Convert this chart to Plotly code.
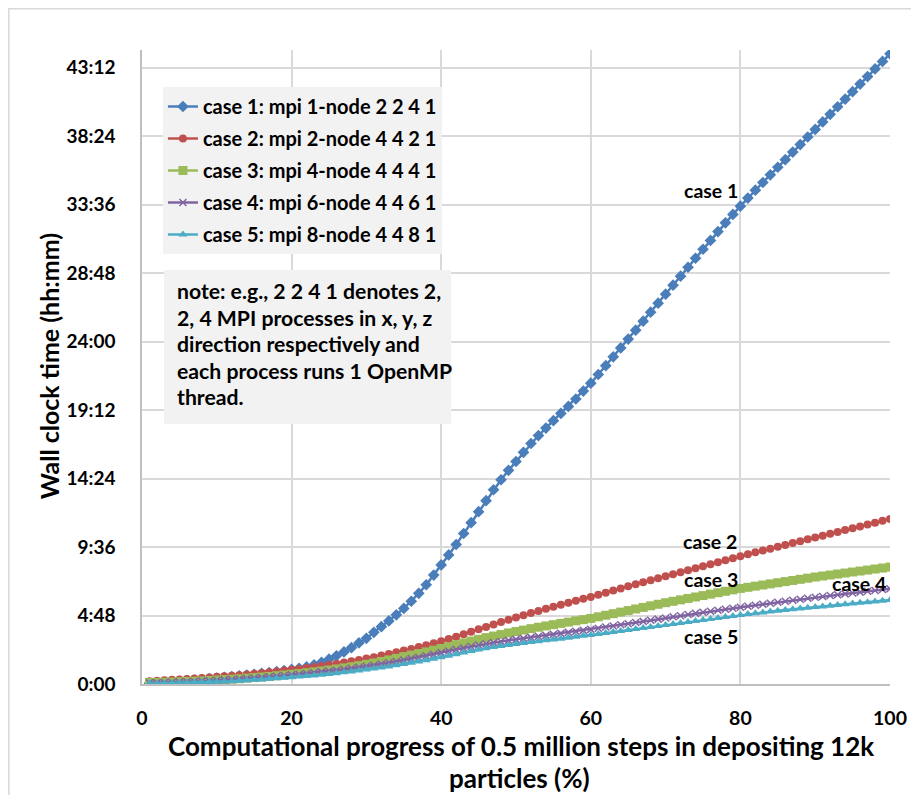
import plotly.graph_objects as go

progress = list(range(1, 101))

case1 = [0.05, 0.08, 0.12, 0.16, 0.20, 0.24, 0.28, 0.32, 0.37, 0.42,
         0.47, 0.52, 0.57, 0.62, 0.68, 0.74, 0.80, 0.87, 0.94, 1.02,
         1.10, 1.20, 1.34, 1.52, 1.74, 1.98, 2.25, 2.55, 2.88, 3.20,
         3.62, 4.02, 4.42, 4.85, 5.30, 5.80, 6.36, 6.96, 7.64, 8.35,
         9.05, 9.78, 10.55, 11.31, 12.08, 12.85, 13.62, 14.32, 14.98, 15.60,
         16.24, 16.86, 17.42, 17.94, 18.46, 18.97, 19.46, 19.98, 20.54, 21.09,
         21.70, 22.32, 22.94, 23.56, 24.18, 24.81, 25.44, 26.07, 26.70, 27.33,
         27.96, 28.59, 29.22, 29.85, 30.48, 31.10, 31.72, 32.33, 32.92, 33.50,
         34.07, 34.62, 35.16, 35.70, 36.23, 36.76, 37.29, 37.82, 38.35, 38.88,
         39.41, 39.94, 40.47, 41.00, 41.53, 42.06, 42.59, 43.12, 43.65, 44.18]

case2 = [0.20, 0.23, 0.26, 0.29, 0.32, 0.35, 0.38, 0.42, 0.46, 0.50,
         0.54, 0.58, 0.62, 0.67, 0.72, 0.77, 0.82, 0.88, 0.94, 1.00,
         1.06, 1.12, 1.19, 1.26, 1.34, 1.42, 1.50, 1.59, 1.68, 1.78,
         1.88, 1.99, 2.10, 2.22, 2.34, 2.46, 2.59, 2.72, 2.86, 3.00,
         3.16, 3.32, 3.49, 3.66, 3.83, 4.00, 4.17, 4.34, 4.50, 4.66,
         4.82, 4.97, 5.12, 5.27, 5.41, 5.55, 5.69, 5.83, 5.97, 6.10,
         6.25, 6.40, 6.55, 6.70, 6.85, 7.00, 7.14, 7.28, 7.42, 7.56,
         7.70, 7.84, 7.98, 8.12, 8.26, 8.40, 8.54, 8.68, 8.82, 8.96,
         9.10, 9.23, 9.36, 9.49, 9.62, 9.75, 9.88, 10.01, 10.14, 10.27,
         10.40, 10.53, 10.66, 10.79, 10.92, 11.05, 11.18, 11.31, 11.44, 11.57]

case3 = [0.10, 0.11, 0.12, 0.14, 0.16, 0.18, 0.20, 0.22, 0.25, 0.28,
         0.31, 0.34, 0.37, 0.41, 0.45, 0.49, 0.53, 0.58, 0.63, 0.68,
         0.73, 0.79, 0.85, 0.91, 0.98, 1.05, 1.13, 1.21, 1.29, 1.38,
         1.48, 1.58, 1.69, 1.80, 1.92, 2.03, 2.14, 2.25, 2.37, 2.49,
         2.62, 2.75, 2.88, 3.01, 3.13, 3.25, 3.36, 3.47, 3.58, 3.68,
         3.78, 3.88, 3.98, 4.07, 4.16, 4.25, 4.34, 4.43, 4.51, 4.60,
         4.71, 4.82, 4.93, 5.04, 5.15, 5.26, 5.37, 5.48, 5.59, 5.70,
         5.80, 5.90, 6.00, 6.10, 6.20, 6.30, 6.40, 6.50, 6.60, 6.70,
         6.78, 6.86, 6.94, 7.02, 7.10, 7.18, 7.26, 7.34, 7.42, 7.50,
         7.57, 7.64, 7.71, 7.78, 7.85, 7.92, 7.99, 8.06, 8.13, 8.20]

case4 = [0.08, 0.09, 0.10, 0.12, 0.14, 0.16, 0.18, 0.20, 0.23, 0.26,
         0.29, 0.32, 0.35, 0.38, 0.42, 0.46, 0.50, 0.54, 0.59, 0.64,
         0.69, 0.74, 0.79, 0.85, 0.91, 0.97, 1.03, 1.10, 1.17, 1.24,
         1.32, 1.40, 1.49, 1.58, 1.68, 1.78, 1.88, 1.98, 2.09, 2.20,
         2.31, 2.42, 2.53, 2.63, 2.73, 2.82, 2.90, 2.98, 3.06, 3.13,
         3.20, 3.27, 3.34, 3.41, 3.48, 3.55, 3.62, 3.69, 3.76, 3.83,
         3.91, 3.99, 4.07, 4.15, 4.23, 4.31, 4.39, 4.47, 4.55, 4.63,
         4.71, 4.79, 4.87, 4.95, 5.03, 5.10, 5.17, 5.24, 5.31, 5.38,
         5.45, 5.52, 5.59, 5.66, 5.73, 5.80, 5.87, 5.94, 6.01, 6.08,
         6.14, 6.20, 6.26, 6.32, 6.38, 6.44, 6.50, 6.56, 6.62, 6.68]

case5 = [0.03, 0.04, 0.05, 0.06, 0.07, 0.08, 0.10, 0.12, 0.14, 0.16,
         0.18, 0.20, 0.23, 0.26, 0.29, 0.32, 0.36, 0.40, 0.44, 0.48,
         0.52, 0.56, 0.60, 0.65, 0.70, 0.76, 0.82, 0.88, 0.94, 1.01,
         1.08, 1.15, 1.23, 1.31, 1.40, 1.49, 1.58, 1.67, 1.77, 1.87,
         1.98, 2.09, 2.20, 2.31, 2.42, 2.51, 2.59, 2.66, 2.73, 2.80,
         2.87, 2.94, 3.00, 3.06, 3.12, 3.18, 3.25, 3.31, 3.38, 3.44,
         3.51, 3.58, 3.65, 3.72, 3.79, 3.86, 3.93, 4.00, 4.07, 4.14,
         4.21, 4.28, 4.35, 4.42, 4.49, 4.56, 4.63, 4.70, 4.77, 4.84,
         4.90, 4.96, 5.02, 5.08, 5.14, 5.19, 5.24, 5.29, 5.34, 5.39,
         5.44, 5.49, 5.54, 5.59, 5.64, 5.69, 5.74, 5.79, 5.84, 5.89]

series_names = ["case 1: mpi 1-node 2 2 4 1",
                "case 2: mpi 2-node 4 4 2 1",
                "case 3: mpi 4-node 4 4 4 1",
                "case 4: mpi 6-node 4 4 6 1",
                "case 5: mpi 8-node 4 4 8 1"]

y_tick_vals = [0, 4.8, 9.6, 14.4, 19.2, 24.0, 28.8, 33.6, 38.4, 43.2]
y_tick_text = ["0:00", "4:48", "9:36", "14:24", "19:12", "24:00",
               "28:48", "33:36", "38:24", "43:12"]
x_tick_vals = [0, 20, 40, 60, 80, 100]

case_labels = ["case 1", "case 2", "case 3", "case 4", "case 5"]
case_label_x = [76.1, 75.9, 76.1, 95.9, 76.1]
case_label_y = [34.6, 9.98, 7.36, 7.08, 3.32]

note_lines = ["note: e.g., 2 2 4 1 denotes 2,",
              "2, 4 MPI processes in x, y, z",
              "direction respectively and",
              "each process runs 1 OpenMP",
              "thread."]

FONT = "Lato"
OFF = 8                      # page body margin of the html page
PAGE_W, PAGE_H = 919, 795
W, H = PAGE_W - OFF, PAGE_H - OFF
# plot area in page pixels
L, R, T, B = 142, 892, 50, 684


def px(x):
    return (x - L) / (R - L)


def py(y):
    return (B - y) / (B - T)


BOLD = dict(family=FONT, color="black", weight="bold")

colors = ["#4A7EBB", "#C0504D", "#9BBB59", "#8064A2", "#4BACC6"]
symbols = ["diamond", "circle", "square", "x-thin", "triangle-up"]
sizes = [9, 8, 9, 7, 8]
data = [case1, case2, case3, case4, case5]

fig = go.Figure()
for i in range(5):
    marker = dict(symbol=symbols[i], size=sizes[i], color=colors[i],
                  line=dict(color=colors[i], width=1.5 if i == 3 else 0))
    fig.add_trace(go.Scatter(
        x=progress, y=data[i], mode="lines+markers", name=series_names[i],
        line=dict(color=colors[i], width=2.5), marker=marker,
        legendgroup=f"g{i}"))

annotations = []
for lab, lx, ly in zip(case_labels, case_label_x, case_label_y):
    annotations.append(dict(x=lx, y=ly, xref="x", yref="y", text=lab,
                            showarrow=False, font=dict(size=19.5, **BOLD)))

note_y = [291, 317.5, 344, 370.5, 397]
for line, yy in zip(note_lines, note_y):
    annotations.append(dict(x=px(175), y=py(yy), xref="paper", yref="paper",
                            text=line, showarrow=False, xanchor="left",
                            yanchor="middle", font=dict(size=21.2, **BOLD)))

annotations.append(dict(x=px(522), y=py(746), xref="paper", yref="paper",
                        text="Computational progress of 0.5 million steps in depositing 12k",
                        showarrow=False, xanchor="center", yanchor="middle",
                        font=dict(size=26, **BOLD)))
annotations.append(dict(x=px(521), y=py(778), xref="paper", yref="paper",
                        text="particles (%)",
                        showarrow=False, xanchor="center", yanchor="middle",
                        font=dict(size=26, **BOLD)))
annotations.append(dict(x=px(49), y=py(366), xref="paper", yref="paper",
                        text="Wall clock time (hh:mm)", textangle=-90,
                        showarrow=False, xanchor="center", yanchor="middle",
                        font=dict(size=25, **BOLD)))

shapes = [
    dict(type="rect", xref="paper", yref="paper",
         x0=px(164), x1=px(452), y0=py(424), y1=py(270),
         fillcolor="#F2F2F2", line=dict(width=0), layer="above"),
    dict(type="rect", xref="paper", yref="paper",
         x0=px(8.5), x1=px(940), y0=py(820), y1=py(8.8),
         fillcolor="rgba(0,0,0,0)", line=dict(color="#D9D9D9", width=1.5),
         layer="below"),
]

fig.update_layout(
    width=W, height=H,
    margin=dict(l=L - OFF, r=PAGE_W - R, t=T - OFF, b=PAGE_H - B),
    paper_bgcolor="white", plot_bgcolor="white",
    font=dict(family=FONT, size=18, color="black"),
    showlegend=True,
    legend=dict(x=px(163), y=py(87), xanchor="left", yanchor="top",
                bgcolor="#F2F2F2", borderwidth=0,
                font=dict(size=20, **BOLD),
                traceorder="grouped", tracegroupgap=3,
                itemwidth=30),
    annotations=annotations,
    shapes=shapes,
)

fig.update_xaxes(range=[0, 100], tickvals=x_tick_vals, showgrid=True,
                 gridcolor="#D9D9D9", gridwidth=1.5, zeroline=False,
                 showline=True, linecolor="#BFBFBF", linewidth=1.5,
                 ticks="", ticklabelstandoff=16,
                 tickfont=dict(size=19.5, **BOLD))
fig.update_yaxes(range=[0, 44.45], tickvals=y_tick_vals, ticktext=y_tick_text,
                 showgrid=True, gridcolor="#D9D9D9", gridwidth=1.5,
                 zeroline=False, showline=True, linecolor="#BFBFBF",
                 linewidth=1.5, ticks="", ticklabelstandoff=21,
                 tickfont=dict(size=19, **BOLD))

fig.write_html("out.html")
